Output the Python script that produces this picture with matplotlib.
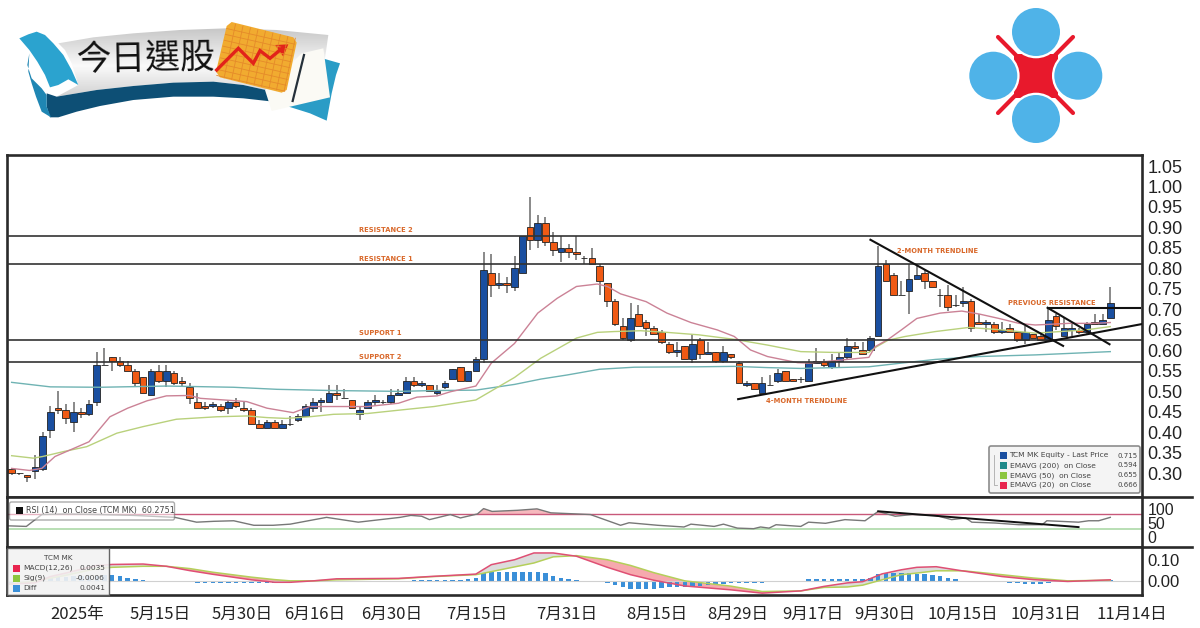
import numpy as np
import matplotlib
matplotlib.use('Agg')
import matplotlib.pyplot as plt
from matplotlib.patches import Polygon, Circle, FancyBboxPatch, Rectangle

W, H = 1200, 628
CJK = ['Noto Sans CJK TC', 'DejaVu Sans']

# candles
opens = [.31,.30,.295,.305,.31,.405,.46,.455,.425,.45,
         .445,.475,.565,.585,.575,.565,.55,.535,.49,.55,
         .525,.545,.525,.51,.475,.465,.465,.465,.46,.475,
         .46,.455,.42,.41,.425,.41,.42,.43,.44,.46,
         .475,.475,.495,.485,.48,.445,.46,.475,.475,.475,
         .49,.495,.525,.515,.515,.495,.51,.53,.56,.525,
         .55,.58,.79,.76,.765,.755,.79,.90,.87,.91,
         .865,.84,.85,.84,.825,.825,.805,.765,.72,.66,
         .625,.69,.67,.655,.645,.615,.595,.61,.58,.625,
         .59,.595,.575,.59,.57,.515,.52,.495,.515,.525,
         .55,.53,.53,.525,.57,.575,.56,.575,.585,.61,
         .60,.60,.635,.81,.785,.735,.745,.775,.79,.77,
         .735,.735,.71,.715,.72,.67,.665,.665,.645,.655,
         .645,.625,.64,.635,.625,.685,.635,.65,.65,.645,
         .67,.665,.68]
closes = [.30,.30,.29,.315,.39,.45,.455,.435,.45,.445,
          .47,.565,.565,.575,.565,.55,.52,.495,.55,.525,
          .55,.52,.52,.485,.46,.46,.47,.455,.475,.465,
          .455,.42,.41,.425,.41,.42,.42,.44,.465,.475,
          .48,.495,.49,.485,.46,.455,.475,.48,.475,.49,
          .495,.525,.515,.52,.50,.50,.52,.555,.525,.55,
          .58,.795,.76,.765,.76,.80,.88,.87,.91,.865,
          .845,.85,.84,.835,.825,.81,.77,.72,.665,.63,
          .68,.66,.655,.64,.62,.595,.60,.58,.615,.59,
          .595,.575,.595,.585,.52,.52,.505,.52,.515,.545,
          .525,.525,.53,.57,.575,.565,.575,.585,.61,.605,
          .59,.63,.805,.77,.735,.735,.775,.785,.77,.755,
          .735,.705,.71,.72,.655,.665,.67,.645,.65,.645,
          .625,.645,.63,.625,.675,.66,.655,.655,.645,.665,
          .665,.675,.715]
highs = [.31,.30,.295,.345,.40,.465,.50,.47,.475,.46,
         .48,.595,.605,.585,.585,.575,.555,.535,.555,.565,
         .565,.55,.535,.52,.495,.475,.475,.47,.48,.485,
         .475,.46,.43,.43,.43,.43,.44,.445,.47,.485,
         .485,.515,.515,.505,.48,.465,.48,.49,.48,.505,
         .505,.535,.535,.525,.515,.515,.525,.555,.56,.55,
         .585,.84,.835,.79,.78,.83,.88,.975,.93,.925,
         .89,.88,.86,.88,.83,.85,.81,.765,.725,.68,
         .715,.71,.675,.66,.65,.62,.62,.61,.64,.63,
         .62,.595,.61,.59,.575,.525,.52,.535,.54,.555,
         .55,.53,.535,.58,.605,.58,.59,.595,.63,.62,
         .62,.635,.855,.82,.79,.77,.81,.81,.795,.77,
         .75,.76,.735,.755,.725,.69,.675,.67,.67,.665,
         .645,.66,.64,.64,.70,.69,.68,.665,.655,.67,
         .69,.69,.755]
lows = [.295,.295,.28,.285,.305,.385,.445,.42,.40,.435,
        .44,.465,.565,.55,.56,.55,.51,.495,.49,.52,
        .51,.515,.51,.47,.46,.455,.46,.45,.445,.46,
        .45,.42,.41,.41,.41,.41,.415,.425,.44,.45,
        .45,.475,.48,.485,.46,.43,.46,.465,.47,.47,
        .49,.495,.51,.51,.50,.49,.505,.53,.525,.525,
        .55,.57,.73,.75,.74,.745,.79,.845,.85,.855,
        .83,.815,.825,.82,.81,.81,.735,.705,.66,.625,
        .62,.66,.635,.64,.615,.59,.585,.58,.57,.58,
        .59,.57,.57,.58,.52,.51,.505,.495,.515,.52,
        .525,.525,.52,.525,.57,.56,.555,.56,.58,.60,
        .59,.595,.635,.77,.735,.735,.69,.775,.75,.755,
        .705,.695,.705,.705,.645,.665,.645,.64,.64,.645,
        .62,.615,.63,.625,.625,.65,.635,.635,.64,.64,
        .665,.665,.68]

# moving averages (bar position, value)
ema20_x = [0,2.3,3.9,5.6,10,12.7,15,17.5,20,23,24.4,29,30.4,33,36.4,38.5,41.6,46,50,52.4,55,56.7,60,62,65,68,70.5,73,75.7,77,78.7,82,84.7,87.8,91.2,93.4,95.5,97.7,101.6,103,106.4,110.8,111.6,113.3,115,117,120,122.8,125,127.6,130.2,132.3,134.5,136.6,140,142]
ema20_y = [.312,.307,.312,.341,.377,.438,.459,.477,.489,.490,.483,.477,.475,.459,.448,.463,.463,.463,.471,.486,.489,.499,.513,.569,.617,.691,.727,.756,.762,.756,.738,.719,.691,.668,.650,.634,.601,.585,.570,.569,.575,.583,.609,.627,.650,.678,.691,.696,.689,.678,.666,.662,.664,.666,.666,.668]
ema50_x = [0,2.8,4,6.7,9.7,13.6,17,21.3,26.5,30.4,33,35.5,38.5,41.6,46,50,54.6,60,65,68.4,73,75.7,77.9,81.3,84.7,88.8,93.4,97.7,102,106.4,110.8,111.8,113.3,115.5,119.4,123.7,128,132.3,138.8,142]
ema50_y = [.343,.337,.341,.353,.365,.398,.414,.432,.438,.440,.436,.434,.438,.444,.446,.454,.463,.479,.534,.581,.630,.644,.646,.648,.644,.638,.627,.613,.597,.595,.595,.609,.625,.634,.646,.656,.650,.642,.650,.658]
ema200_x = [0,5,11.4,20,28.7,34.3,41.6,50,54.6,60,65,68.4,71.8,76,80.5,88.8,93.4,97.7,102,110.8,115,119.4,125,132.3,142]
ema200_y = [.522,.511,.510,.513,.510,.505,.502,.500,.502,.503,.517,.530,.540,.554,.559,.560,.561,.558,.556,.560,.569,.578,.585,.589,.597]

# levels and drawn trendlines
levels = [.878, .81, .626, .571]
level_names = ['RESISTANCE 2', 'RESISTANCE 1', 'SUPPORT 1', 'SUPPORT 2']
level_label_y = [.894, .823, .642, .584]
trend_lines = [([111, 135.9], [.870, .611]),
               ([93.9, 146.3], [.481, .665]),
               ([133.9, 141.9], [.704, .615]),
               ([134, 145.9], [.703, .703])]
notes = [('2-MONTH TRENDLINE', 119.7, .843),
         ('PREVIOUS RESISTANCE', 134.4, .716),
         ('4-MONTH TRENDLINE', 102.8, .476)]

# RSI
rsi_x = [-.4,1.9,3.9,7.1,11.4,15.7,21.1,23.9,26.1,28.7,31.3,33.8,36,40.7,44.8,50.2,51.6,53,54,56.7,58,60.2,61,62.1,65.4,67.9,69.7,74.8,78.7,79.8,83.5,86.9,87.8,90.8,92,93.8,95.9,96.8,97.9,98.8,102,103,105.2,107.7,110.3,112,114.2,116.4,119.4,121.5,123.3,124.1,127.1,130.2,133.2,133.8,137.9,139.2,140.5,142]
rsi_y = [39,37,79,81,79,76,69,52,55,57,41,41,45,69,52,69,76,73,61,79,67,81,100,90,94,99,85,79,41,50,41,35,45,37,45,31,29,35,31,43,37,52,48,61,57,90,73,79,76,61,67,52,49,43,43,57,52,57,57,69]
rsi_high, rsi_low = 81, 27.4
rsi_trend = ([112, 137.9], [90.5, 34.6])

# MACD
macd_x = [-.5,3,5,7,11,13,17,20,23,26,31,34,36,39,42,50,54,60,62,65,67.5,70,73,77,80,83,87,93,97,102,105,108,110,112.5,115,117,119.5,123,128,132,136.5,142]
macd = [-.016,-.010,.021,.038,.075,.080,.082,.071,.050,.032,.005,-.007,-.007,0,.010,.012,.021,.033,.079,.103,.136,.136,.120,.066,.030,.003,-.025,-.044,-.060,-.049,-.027,-.010,-.004,.034,.054,.066,.069,.048,.021,.006,-.003,.005]
signal = [-.016,-.002,.013,.027,.060,.066,.071,.071,.060,.042,.018,.006,0,0,.005,.010,.020,.030,.045,.068,.087,.117,.123,.103,.075,.040,0,-.026,-.052,-.049,-.032,-.030,-.021,.005,.030,.038,.049,.049,.030,.014,0,.003]
diff = [-.01,-.01,-.005,0,.008,.015,.02,.02,.022,.024,
        .025,.025,.03,.03,.025,.013,.007,.005,0,0,
        0,0,0,-.007,-.012,-.012,-.012,-.012,-.012,-.012,
        -.012,-.012,-.012,-.012,-.012,-.012,-.012,-.007,0,0,
        0,0,0,0,0,0,0,0,0,0,
        0,0,.005,.005,.005,.005,.005,.005,.005,.007,
        .012,.04,.043,.043,.043,.043,.045,.045,.045,.04,
        .025,.012,.008,.005,0,0,-.007,-.012,-.018,-.03,
        -.04,-.04,-.04,-.04,-.035,-.03,-.03,-.03,-.03,-.025,
        -.02,-.015,-.013,-.01,-.01,-.01,-.01,-.01,-.007,-.007,
        -.007,-.007,0,.007,.007,.007,.007,.007,.007,.007,
        .007,.012,.035,.04,.04,.04,.037,.035,.035,.03,
        .025,.015,.007,0,0,0,-.007,-.007,-.008,-.01,
        -.012,-.014,-.014,-.014,-.012,0,0,0,0,0,
        0,.002,.004]

# axis labels
price_ticks = [.30,.35,.40,.45,.50,.55,.60,.65,.70,.75,.80,.85,.90,.95,1.00,1.05]
rsi_ticks = [0, 50, 100]
macd_ticks = [0, .10]
date_pos = [8.5,19.2,29.8,39.2,49.1,60.1,71.8,83.4,93.9,103.5,112.9,122.9,133.7,144.8]
date_labels = ['2025年','5月15日','5月30日','6月16日','6月30日','7月15日','7月31日','8月15日',
               '8月29日','9月17日','9月30日','10月15日','10月31日','11月14日']

# legend rows
price_legend = [('TCM MK Equity - Last Price', '0.715', '#1a4fa0'),
                ('EMAVG (200)  on Close', '0.594', '#1f8a8a'),
                ('EMAVG (50)  on Close', '0.655', '#8cc63f'),
                ('EMAVG (20)  on Close', '0.666', '#e8254f')]
macd_legend = [('MACD(12,26)', '0.0035', '#e8254f'),
               ('Sig(9)', '-0.0006', '#8cc63f'),
               ('Diff', '0.0041', '#3a8fd8')]

FRAME = '#2a2a2a'
XLIM = (-0.6, 146.1)


def panel(top, bottom, ylim):
    a = fig.add_axes([7 / W, 1 - bottom / H, (1142 - 7) / W, (bottom - top) / H])
    a.set_xlim(*XLIM)
    a.set_ylim(*ylim)
    a.yaxis.tick_right()
    a.tick_params(length=0, pad=4, labelbottom=False, bottom=False)
    for s in a.spines.values():
        s.set_linewidth(1.9)
        s.set_color(FRAME)
    return a


fig = plt.figure(figsize=(12, 6.28), dpi=100)
ax = panel(154.5, 497, (0.2422, 1.0781))
ax_rsi = panel(497, 546.5, (-34, 141))
ax_macd = panel(546.5, 595, (-.069, .1675))

# main panel
idx = np.arange(len(opens))
o, c = np.array(opens), np.array(closes)
up = c >= o
ax.vlines(idx, lows, highs, color='#6a6a6a', lw=1.1, zorder=2)
ax.bar(idx, np.abs(c - o), bottom=np.minimum(o, c), width=0.86,
       color=np.where(up, '#1a4fa0', '#f05a14'), edgecolor='#222222', lw=0.6, zorder=3)
ax.plot(ema200_x, ema200_y, color='#6fb3b3', lw=1.0, zorder=4)
ax.plot(ema50_x, ema50_y, color='#b9d17c', lw=1.0, zorder=4)
ax.plot(ema20_x, ema20_y, color='#cb8296', lw=1.0, zorder=4)
for lv in levels:
    ax.axhline(lv, color='#333333', lw=1.2, zorder=5)
for xs, ys in trend_lines:
    ax.plot(xs, ys, color='#111111', lw=1.5, zorder=6)
label_style = dict(color='#d9682a', fontsize=4.9, fontweight='bold', va='center')
for name, y in zip(level_names, level_label_y):
    ax.text(44.9, y, name, ha='left', **label_style)
for name, x, y in notes:
    ax.text(x, y, name, ha='center', **label_style)
ax.set_yticks(price_ticks)
ax.set_yticklabels([f'{v:.2f}' for v in price_ticks], family='Liberation Sans', fontsize=13, color='#222222')

# RSI panel
ax_rsi.axhline(rsi_high, color='#c8587a', lw=1.0)
ax_rsi.axhline(rsi_low, color='#a5d6a0', lw=1.1)
ax_rsi.fill_between(rsi_x, rsi_y, rsi_high, where=np.array(rsi_y) > rsi_high, interpolate=True,
                    color='#f6b8bd', lw=0)
ax_rsi.plot(rsi_x, rsi_y, color='#777777', lw=1.0)
ax_rsi.plot(*rsi_trend, color='#111111', lw=1.4)
ax_rsi.set_yticks(rsi_ticks)
ax_rsi.set_yticklabels(['0', '50', '100'], family='Liberation Sans', fontsize=11.5, color='#222222')

# MACD panel
m, sg = np.array(macd), np.array(signal)
ax_macd.axhline(0, color='#d0d0d0', lw=0.8)
ax_macd.fill_between(macd_x, m, sg, where=m >= sg, interpolate=True, color='#dcdcdc', lw=0)
ax_macd.fill_between(macd_x, m, sg, where=m < sg, interpolate=True, color='#f6a9ae', lw=0)
ax_macd.bar(idx, diff, width=0.58, color='#3a8fd8', lw=0)
ax_macd.plot(macd_x, signal, color='#b4cf5a', lw=1.1)
ax_macd.plot(macd_x, macd, color='#df4f74', lw=1.1)
ax_macd.set_yticks(macd_ticks)
ax_macd.set_yticklabels(['0.00', '0.10'], family='Liberation Sans', fontsize=12, color='#222222')
ax_macd.set_xticks(date_pos)
ax_macd.set_xticklabels(date_labels, family=CJK, fontsize=12, color='#222222')
ax_macd.tick_params(axis='x', labelbottom=True, pad=8, length=0)

# pixel overlay for the legends and the two logos
ov = fig.add_axes([0, 0, 1, 1], zorder=10)
ov.patch.set_visible(False)
ov.axis('off')


def z(pts):
    # zoom-crop coords to pixels
    return [(x / 3, y / 3) for x, y in pts]


def shape(pts, color, **kw):
    ov.add_patch(Polygon(z(pts), closed=True, fc=color, ec='none', **kw))


# banner
shape([(950,170),(1020,190),(1008,225),(995,280),(980,362),(930,340),(860,318),(800,300)], '#2a9cc6')
shape([(140,280),(170,290),(290,270),(400,258),(520,248),(640,245),(730,255),(820,275),(820,305),(730,295),(640,290),(520,290),(400,300),(300,318),(230,335),(175,352),(150,352),(140,320)], '#0d4f75')
shape([(88,160),(82,195),(95,235),(125,265),(140,285),(140,320),(153,352),(125,335),(108,290),(95,250),(85,215)], '#1f86b3')
band = Polygon(z([(175,130),(280,112),(400,100),(540,90),(680,85),(830,90),(985,105),(975,175),(820,275),(730,255),(640,245),(520,248),(400,258),(290,270),(170,290),(235,255),(215,190),(195,150)]),
               closed=True, fc='none', ec='none')
ov.add_patch(band)
grad = np.interp(np.linspace(0, 1, 64), [0, .55, 1], [.78, .98, .82]).reshape(-1, 1)
img = ov.imshow(grad, extent=(55, 330, 97, 28), cmap='gray', vmin=0, vmax=1, aspect='auto')
img.set_clip_path(band)
shape([(58,115),(85,103),(110,95),(135,105),(160,130),(190,165),(215,210),(235,255),(205,238),(175,255),(150,262),(135,225),(112,185),(88,150)], '#2ba3cf')
shape([(905,160),(970,145),(990,292),(815,333),(795,270)], '#fbfaf5')
ov.plot(*zip(*z([(912,165),(878,303)])), color='#25303a', lw=1.6)
shape([(695,66),(880,112),(890,128),(860,270),(845,278),(660,232),(648,215),(680,78)], '#f1ab30')
for t in np.arange(0.11, 1, 0.11):
    x0, y0 = 684 + t * 204, 68 + t * 47
    ov.plot(*zip(*z([(x0, y0), (x0 - 34, y0 + 160)])), color='#e58a2a', lw=0.6)
    x1, y1 = 684 - t * 34, 68 + t * 160
    ov.plot(*zip(*z([(x1, y1), (x1 + 204, y1 + 47)])), color='#e58a2a', lw=0.6)
ov.plot(*zip(*z([(650,210),(715,145),(760,190),(780,152),(810,175),(850,142)])), color='#e2231a', lw=2.4, solid_joinstyle='miter')
shape([(825,135),(865,133),(850,170)], '#e2231a')
ov.text(146, 59, '今日選股', family=CJK, fontsize=25, color='#111111', ha='center', va='center', rotation=1)

# company logo
ov.plot([998, 1073], [37, 113], color='#e8192c', lw=3.0, solid_capstyle='round')
ov.plot([1073, 998], [37, 113], color='#e8192c', lw=3.0, solid_capstyle='round')
ov.add_patch(Rectangle((1014, 54), 44, 44, fc='#e8192c', ec='none'))
for cx, cy in [(1036, 32), (993.3, 75.7), (1078.3, 75.7), (1036, 119)]:
    ov.add_patch(Circle((cx, cy), 26.3, fc='white', ec='none'))
    ov.add_patch(Circle((cx, cy), 24, fc='#4fb3e8', ec='none'))

# rules running past the frame on the right
ov.plot([1142, 1192], [497, 497], color=FRAME, lw=1.9)
ov.plot([1142, 1192], [546.5, 546.5], color=FRAME, lw=1.9)

# price legend
ov.add_patch(FancyBboxPatch((989, 446), 151, 47, boxstyle='round,pad=0,rounding_size=2',
                            fc='#f4f4f4', ec='#8c8c8c', lw=1.2))
ov.plot([994, 994, 997], [455, 485, 485], color='#aaaaaa', lw=0.6)
for i, (name, val, col) in enumerate(price_legend):
    y = 455.5 + i * 9.9
    ov.add_patch(Rectangle((999.5, y - 3.5), 7, 7, fc=col, ec='none'))
    ov.text(1009.5, y, name, fontsize=5.4, color='#444444', va='center')
    ov.text(1138, y, val, fontsize=5.0, color='#444444', va='center', ha='right')

# RSI legend
ov.add_patch(FancyBboxPatch((9.5, 502), 165, 18, boxstyle='round,pad=0,rounding_size=2',
                            fc='white', alpha=0.55, ec='#666666', lw=1.0))
ov.add_patch(Rectangle((15.5, 507), 7, 7, fc='#111111', ec='none'))
ov.text(26, 511, 'RSI (14)  on Close (TCM MK)  60.2751', fontsize=5.8, color='#444444', va='center')

# MACD legend
ov.add_patch(Rectangle((7, 547.5), 102, 47, fc='#f2f2f2', alpha=0.9, ec='#555555', lw=1.0))
ov.text(58, 558.5, 'TCM MK', fontsize=5.2, color='#444444', ha='center', va='center')
for i, (name, val, col) in enumerate(macd_legend):
    y = 568 + i * 10
    ov.add_patch(Rectangle((13, y - 3.5), 7, 7, fc=col, ec='none'))
    ov.text(23, y, name, fontsize=5.4, color='#444444', va='center')
    ov.text(105, y, val, fontsize=5.4, color='#444444', va='center', ha='right')

ov.set_xlim(0, W)
ov.set_ylim(H, 0)

fig.savefig('out.png', dpi=100)
